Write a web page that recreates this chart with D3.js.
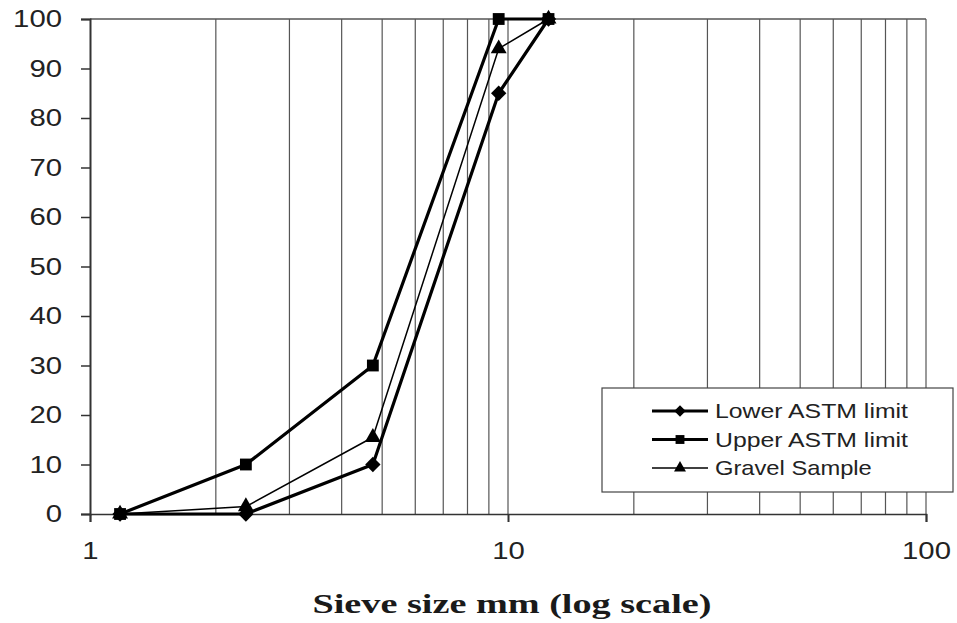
<!DOCTYPE html>
<html>
<head>
<meta charset="utf-8">
<script src="https://cdn.jsdelivr.net/npm/d3@7"></script>
<style>
  body { margin: 0; background: #fff; }
  svg { display: block; }
</style>
</head>
<body>
<div id="chart"></div>
<script>
// sieve sizes (mm) and percent passing
var sieveSizes = [1.18, 2.36, 4.75, 9.5, 12.5];
var lowerLimit = [0, 0, 10, 85, 100];
var upperLimit = [0, 10, 30, 100, 100];
var gravelSample = [0, 1.5, 15.5, 94, 100];

var yTicks = [0, 10, 20, 30, 40, 50, 60, 70, 80, 90, 100];
var xTickLabels = [1, 10, 100];
var xGrid = [2, 3, 4, 5, 6, 7, 8, 9, 10, 20, 30, 40, 50, 60, 70, 80, 90, 100];

var series = [
  { name: "Lower ASTM limit", values: lowerLimit, marker: "diamond", width: 3.2 },
  { name: "Upper ASTM limit", values: upperLimit, marker: "square", width: 3.2 },
  { name: "Gravel Sample", values: gravelSample, marker: "triangle", width: 1.5 }
];

var W = 957, H = 623;
var margin = { left: 90, right: 31, top: 19, bottom: 109 };
var sans = "Liberation Sans, Arial, sans-serif";

var svg = d3.select("#chart").append("svg")
  .attr("width", W).attr("height", H);

var x = d3.scaleLog().domain([1, 100]).range([margin.left, W - margin.right]);
var y = d3.scaleLinear().domain([0, 100]).range([H - margin.bottom, margin.top]);

var gridColor = "#555";

// vertical grid lines
svg.append("g").selectAll("line").data(xGrid).enter().append("line")
  .attr("x1", d => x(d)).attr("x2", d => x(d))
  .attr("y1", y(0)).attr("y2", y(100))
  .attr("stroke", gridColor).attr("stroke-width", 1.2);

// top border
svg.append("line")
  .attr("x1", x(1)).attr("x2", x(100))
  .attr("y1", y(100)).attr("y2", y(100))
  .attr("stroke", gridColor).attr("stroke-width", 1.5);

// the picture's text is stretched sideways, so fix widths per char
function stretch(sel, perChar) {
  sel.each(function() {
    var t = d3.select(this);
    t.attr("textLength", t.text().length * perChar)
     .attr("lengthAdjust", "spacingAndGlyphs");
  });
}

// y axis
var yAxis = svg.append("g")
  .attr("transform", "translate(" + x(1) + ",0)")
  .call(d3.axisLeft(y).tickValues(yTicks).tickSize(9).tickPadding(19));
yAxis.select(".domain").attr("stroke", "#333").attr("stroke-width", 2);
yAxis.selectAll(".tick line").attr("stroke", "#333").attr("stroke-width", 1.5);
yAxis.selectAll("text")
  .attr("font-family", sans)
  .attr("font-size", 24).attr("fill", "#222")
  .call(stretch, 16.3);

// x axis
var xAxis = svg.append("g")
  .attr("transform", "translate(0," + y(0) + ")")
  .call(d3.axisBottom(x).tickValues(xTickLabels).tickFormat(d3.format("d")).tickSize(8).tickPadding(20));
xAxis.select(".domain").attr("stroke", "#333").attr("stroke-width", 1.5);
xAxis.selectAll(".tick line").attr("stroke", "#333").attr("stroke-width", 2);
xAxis.selectAll("text")
  .attr("font-family", sans)
  .attr("font-size", 24).attr("fill", "#222")
  .call(stretch, 16.3);

// axis title
svg.append("text")
  .attr("x", 512).attr("y", 613)
  .attr("text-anchor", "middle")
  .attr("font-family", "Liberation Serif, Times New Roman, serif")
  .attr("font-weight", "bold")
  .attr("font-size", 28)
  .attr("fill", "#1a1a1a")
  .attr("textLength", 399)
  .attr("lengthAdjust", "spacingAndGlyphs")
  .text("Sieve size mm (log scale)");

var symbolFor = {
  diamond: d3.symbol().type(d3.symbolDiamond2).size(150),
  square: d3.symbol().type(d3.symbolSquare).size(140),
  triangle: d3.symbol().type(d3.symbolTriangle).size(110)
};

var line = d3.line()
  .x(d => x(d[0]))
  .y(d => y(d[1]));

series.forEach(function(s) {
  var pts = sieveSizes.map((v, i) => [v, s.values[i]]);
  svg.append("path")
    .datum(pts)
    .attr("d", line)
    .attr("fill", "none")
    .attr("stroke", "#000")
    .attr("stroke-width", s.width)
    .attr("stroke-linejoin", "round");
  svg.append("g").selectAll("path").data(pts).enter().append("path")
    .attr("d", symbolFor[s.marker])
    .attr("transform", d => "translate(" + x(d[0]) + "," + y(d[1]) + ")")
    .attr("fill", "#000");
});

// legend
var lg = svg.append("g").attr("transform", "translate(602,388)");
lg.append("rect")
  .attr("width", 351).attr("height", 104)
  .attr("fill", "#fff").attr("stroke", "#444").attr("stroke-width", 1.2);
series.forEach(function(s, i) {
  var yy = 23 + i * 28.5;
  lg.append("line")
    .attr("x1", 50).attr("x2", 106).attr("y1", yy).attr("y2", yy)
    .attr("stroke", "#000").attr("stroke-width", s.width);
  lg.append("path")
    .attr("d", symbolFor[s.marker])
    .attr("transform", "translate(78," + yy + ") scale(0.75)")
    .attr("fill", "#000");
  lg.append("text")
    .attr("x", 113).attr("y", yy + 7)
    .attr("font-family", sans)
    .attr("font-size", 21).attr("fill", "#222")
    .attr("textLength", s.name.length * 12.06)
    .attr("lengthAdjust", "spacingAndGlyphs")
    .text(s.name);
});
</script>
</body>
</html>
